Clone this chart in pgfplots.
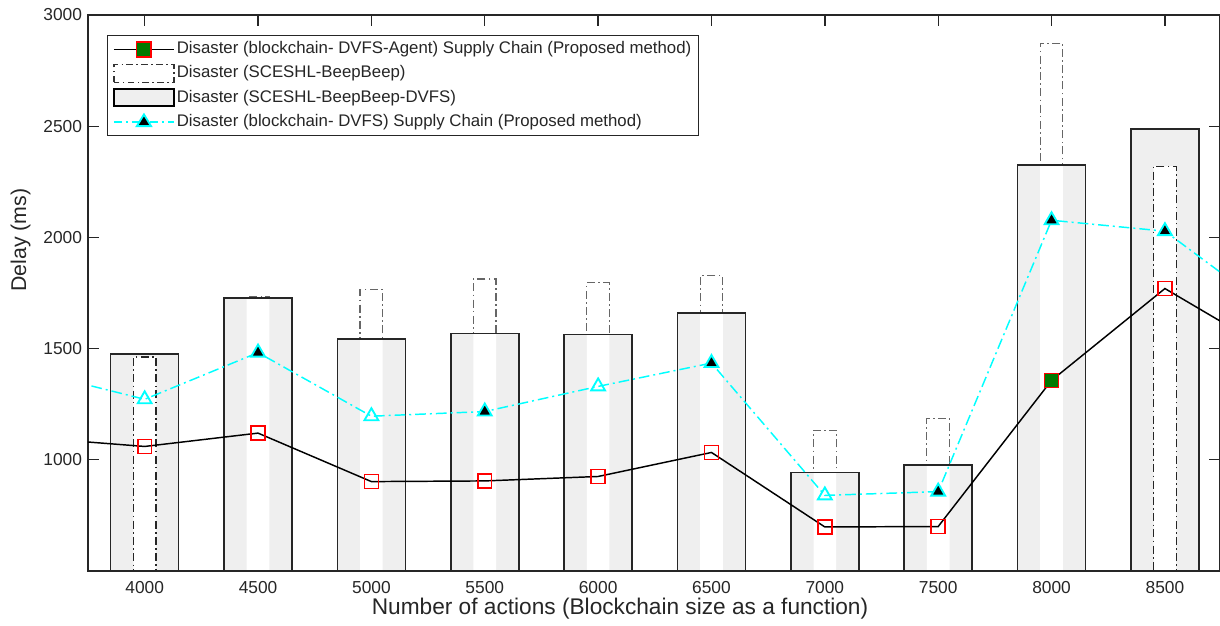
\documentclass[border=0pt]{standalone}
\usepackage{fontspec}
\setmainfont{Liberation Sans}
\usepackage{pgfplots}
\pgfplotsset{compat=1.18}
\definecolor{barfill}{HTML}{EFEFEF}
\definecolor{axgray}{HTML}{262626}
\definecolor{dgreen}{HTML}{007A00}
\definecolor{cyn}{HTML}{00FFFF}
\begin{document}
\begin{tikzpicture}
\begin{axis}[
  scale only axis, width=849pt, height=417pt,
  xmin=3750, xmax=8743, ymin=500, ymax=3000,
  xtick={4000,4500,...,8500},
  ytick={1000,1500,...,3000},
  xtick pos=right, xticklabel pos=left,
  ytick pos=both, yticklabel pos=left,
  tick align=inside,
  major tick length=8pt,
  axis line style={axgray, line width=1pt},
  every tick/.style={axgray, line width=1pt},
  /pgf/number format/assume math mode=true,
  /pgf/number format/1000 sep={},
  ticklabel style={font=\fontsize{13}{15}\selectfont, text=axgray},
  xticklabel style={yshift=-4pt},
  yticklabel style={xshift=-1pt},
  xlabel={Number of actions (Blockchain size as a function)},
  ylabel={Delay (ms)},
  every axis x label/.style={at={(axis description cs:0.47,-0.068)}, anchor=center, font=\fontsize{17}{19}\selectfont, text=axgray},
  every axis y label/.style={at={(axis description cs:-0.0595,0.595)}, rotate=90, anchor=center, font=\fontsize{16}{18}\selectfont, text=axgray},
  legend cell align=left,
  legend style={at={(axis description cs:0.0168,0.964)}, anchor=north west,
    draw=axgray, line width=1.1pt, fill=white,
    font=\fontsize{12.6}{14}\selectfont, text=black!85,
    inner xsep=4pt, inner ysep=2.5pt,
    nodes={inner sep=1.5pt, text height=9.5pt, text depth=3pt},
    row sep=2.6pt},
  clip=true,
]
% legend entries
\addlegendimage{legend image code/.code={
  \draw[black, line width=1.1pt] (0pt,0pt) -- (45pt,0pt);
  \draw[red, fill=dgreen, line width=1.2pt] (17pt,-5.5pt) rectangle (28pt,5.5pt);}}
\addlegendentry{Disaster (blockchain- DVFS-Agent) Supply Chain (Proposed method)}
\addlegendimage{legend image code/.code={
  \draw[black!80, line width=0.9pt, dash pattern=on 5pt off 2.5pt on 1.2pt off 2.5pt] (0pt,-6.5pt) rectangle (45pt,6.5pt);}}
\addlegendentry{Disaster (SCESHL-BeepBeep)}
\addlegendimage{legend image code/.code={
  \draw[black, line width=1.3pt, fill=barfill] (0pt,-6.5pt) rectangle (45pt,6.5pt);}}
\addlegendentry{Disaster (SCESHL-BeepBeep-DVFS)}
\addlegendimage{legend image code/.code={
  \draw[cyn, line width=1.1pt, dash pattern=on 6pt off 3pt on 1.5pt off 3pt] (0pt,0pt) -- (45pt,0pt);
  \draw[cyn, fill=black, line width=1.4pt] (22.5pt,5.5pt) -- (17.2pt,-3.2pt) -- (27.8pt,-3.2pt) -- cycle;}}
\addlegendentry{Disaster (blockchain- DVFS) Supply Chain (Proposed method)}

% narrow bars (SCESHL-BeepBeep), full height
\addplot[forget plot, ybar, bar width=100, bar shift=0pt, fill=white, draw=black!60, line width=0.9pt,
  dash pattern=on 6pt off 2.5pt on 1.2pt off 2.5pt] coordinates {
  (4000,1462) (4500,1733) (5000,1765) (5500,1813) (6000,1796) (6500,1827)
  (7000,1133) (7500,1186) (8000,2873) (8500,2320)};
% wide bars (SCESHL-BeepBeep-DVFS)
\addplot[forget plot, ybar, bar width=300, bar shift=0pt, fill=barfill, draw=none] coordinates {
  (4000,1475) (4500,1727) (5000,1543) (5500,1567) (6000,1563) (6500,1660)
  (7000,943) (7500,977) (8000,2325) (8500,2487)};
% white strips where the narrow bar lies inside the wide bar
\addplot[forget plot, ybar, bar width=100, bar shift=0pt, fill=white, draw=none] coordinates {
  (4000,1462) (4500,1727) (5000,1543) (5500,1567) (6000,1563) (6500,1660)
  (7000,943) (7500,977) (8000,2325) (8500,2320)};
% wide bar outlines
\addplot[forget plot, ybar, bar width=300, bar shift=0pt, fill=none, draw=axgray, line width=1.2pt] coordinates {
  (4000,1475) (4500,1727) (5000,1543) (5500,1567) (6000,1563) (6500,1660)
  (7000,943) (7500,977) (8000,2325) (8500,2487)};
% narrow bar outlines where they are lower than the wide bar
\addplot[forget plot, ybar, bar width=100, bar shift=0pt, fill=none, draw=black!85, line width=1pt,
  dash pattern=on 6pt off 2.5pt on 1.2pt off 2.5pt] coordinates {
  (4000,1462) (8500,2320)};

% black line (proposed, DVFS-Agent)
\addplot[forget plot, black, line width=1.1pt, mark=square, mark size=5.2pt,
  mark options={red, line width=1.2pt, solid}, mark indices={1,2,3,4,5,6,7,8,10}] coordinates {
  (3500,1100) (4000,1060) (4500,1120) (5000,902) (5500,905) (6000,925) (6500,1033)
  (7000,698) (7500,700) (8000,1357) (8500,1770) (9000,1470)};
\addplot[forget plot, only marks, mark=square*, mark size=5.2pt,
  mark options={draw=red, fill=dgreen, line width=1.2pt}] coordinates {(8000,1357)};

% cyan line (proposed, DVFS)
\addplot[forget plot, cyn, line width=1.1pt, dash pattern=on 8pt off 3pt on 1.5pt off 3pt,
  mark=triangle, mark size=6pt, mark options={cyn, line width=1.4pt, solid},
  mark indices={1,3,5,7}] coordinates {
  (3500,1400) (4000,1272) (4500,1482) (5000,1196) (5500,1217) (6000,1330) (6500,1435)
  (7000,840) (7500,857) (8000,2077) (8500,2028) (9000,1650)};
\addplot[forget plot, only marks, mark=triangle*, mark size=6pt,
  mark options={draw=cyn, fill=black, line width=1.4pt}] coordinates {
  (4500,1482) (5500,1217) (6500,1435) (7500,857) (8000,2077) (8500,2028)};
\end{axis}
\pgfresetboundingbox
\path (current axis.south west) ++(-66pt,-40.5pt) coordinate (bbA);
\path (current axis.north east) ++(0pt,11.25pt) coordinate (bbB);
\useasboundingbox (bbA) rectangle (bbB);
\end{tikzpicture}
\end{document}
